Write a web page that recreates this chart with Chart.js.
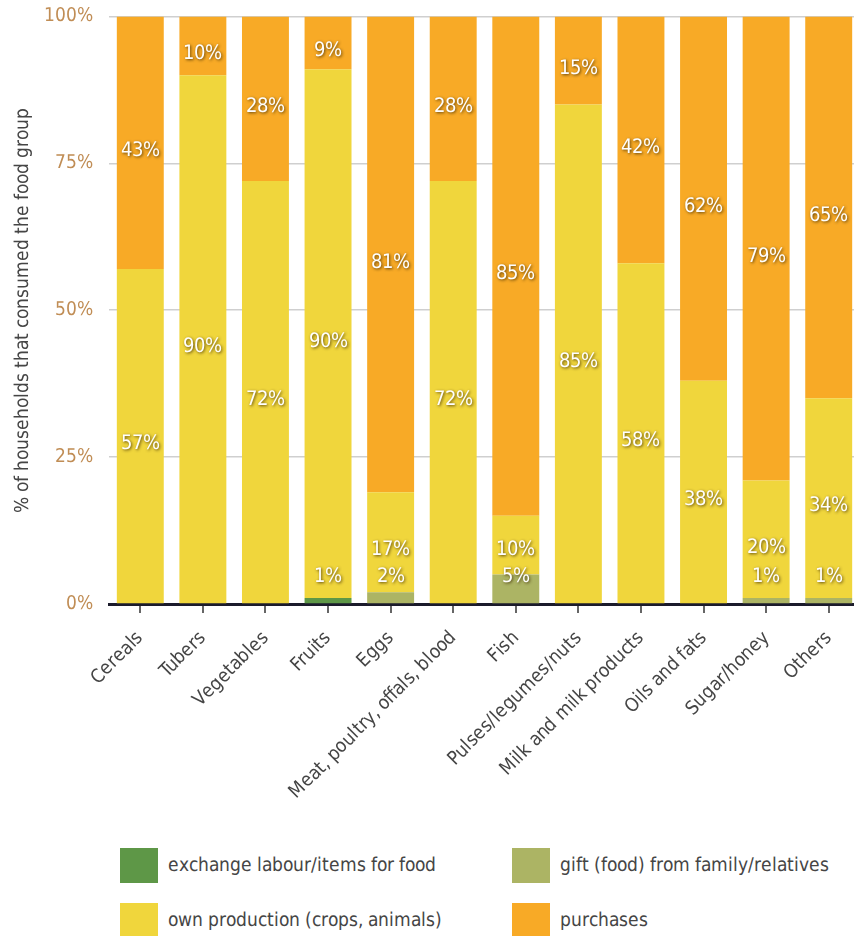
<!DOCTYPE html>
<html>
<head>
<meta charset="utf-8">
<script src="https://cdn.jsdelivr.net/npm/chart.js@4/dist/chart.umd.min.js"></script>
<style>
  @font-face { font-family: 'Estreita'; src: local('DejaVu Sans Condensed'), local('DejaVuSansCondensed'); }
  html, body { margin: 0; padding: 0; background: #fff; overflow: hidden; }
  #wrap { position: relative; width: 860px; height: 936px; overflow: hidden; }
  #box { position: absolute; left: 0; top: -11px; width: 860px; height: 841px; }
  .leg { position: absolute; font-family: 'Estreita', sans-serif; font-size: 19px; color: #454545; }
  .leg span { position: absolute; width: 38px; height: 35px; }
  .leg div { position: absolute; left: 48px; top: 5px; white-space: nowrap; }
</style>
</head>
<body>
<div id="wrap">
  <div id="box"><canvas id="grafico"></canvas></div>
  <div id="legenda"></div>
</div>
<script>
const categorias = ['Cereals', 'Tubers', 'Vegetables', 'Fruits', 'Eggs', 'Meat, poultry, offals, blood', 'Fish',
  'Pulses/legumes/nuts', 'Milk and milk products', 'Oils and fats', 'Sugar/honey', 'Others']
const troca = [0, 0, 0, 1, 0, 0, 0, 0, 0, 0, 0, 0]
const presente = [0, 0, 0, 0, 2, 0, 5, 0, 0, 0, 1, 1]
const producao = [57, 90, 72, 90, 17, 72, 10, 85, 58, 38, 20, 34]
const compras = [43, 10, 28, 9, 81, 28, 85, 15, 42, 62, 79, 65]
const marcasY = ['0%', '25%', '50%', '75%', '100%']

const series = [
  { label: 'exchange labour/items for food', data: troca, cor: '#5e9747' },
  { label: 'gift (food) from family/relatives', data: presente, cor: '#acb464' },
  { label: 'own production (crops, animals)', data: producao, cor: '#f0d63c' },
  { label: 'purchases', data: compras, cor: '#f8aa26' }
]

const fonte = "'Estreita', sans-serif"

// rotulos brancos com sombra dentro das barras
const rotulos = {
  id: 'rotulos',
  afterDatasetsDraw(chart) {
    const ctx = chart.ctx
    ctx.save()
    ctx.font = '20px ' + fonte
    ctx.fillStyle = '#fff'
    ctx.textAlign = 'center'
    ctx.textBaseline = 'middle'
    ctx.shadowColor = 'rgba(60,40,0,0.85)'
    ctx.shadowBlur = 3
    ctx.shadowOffsetX = 1
    ctx.shadowOffsetY = 1
    categorias.forEach((c, i) => {
      let anterior = chart.chartArea.bottom
      chart.data.datasets.forEach((ds, d) => {
        const v = ds.data[i]
        if (!v) return
        const barra = chart.getDatasetMeta(d).data[i]
        let y = (barra.y + barra.base) / 2 + 8
        y = Math.min(y, anterior - 27)
        ctx.fillText(v + '%', barra.x, y)
        anterior = y
      })
    })
    ctx.restore()
  }
}

function desenha() {
  new Chart(document.getElementById('grafico'), {
    type: 'bar',
    data: {
      labels: categorias,
      datasets: series.map(s => ({
        label: s.label,
        data: s.data,
        backgroundColor: s.cor,
        categoryPercentage: 1,
        barPercentage: 0.75
      }))
    },
    options: {
      responsive: true,
      maintainAspectRatio: false,
      animation: false,
      layout: { padding: { top: 0, left: 12, right: 0, bottom: 0 } },
      plugins: { legend: { display: false }, tooltip: { enabled: false } },
      scales: {
        x: {
          stacked: true,
          afterFit: (s) => { s.height = 226 },
          grid: { offset: false, drawOnChartArea: false, drawTicks: true, tickLength: 9, color: '#666', lineWidth: 2 },
          border: { display: true, color: '#1b1b2b', width: 3 },
          ticks: { minRotation: 45, maxRotation: 45, color: '#454545', font: { family: fonte, size: 19 }, padding: 14 }
        },
        y: {
          stacked: true,
          min: 0,
          max: 100,
          afterFit: (s) => { s.width = 97 },
          grid: { drawTicks: false, color: '#cfcfcf', lineWidth: 1.5 },
          border: { display: false },
          ticks: {
            stepSize: 25,
            padding: 16,
            color: '#c08d55',
            font: { family: fonte, size: 19 },
            callback: (v) => marcasY[v / 25]
          },
          title: {
            display: true,
            text: '% of households that consumed the food group',
            color: '#454545',
            font: { family: fonte, size: 19 },
            padding: { top: 0, bottom: 4 }
          }
        }
      }
    },
    plugins: [rotulos]
  })

  // legenda em duas colunas
  const legenda = document.getElementById('legenda')
  const posicoes = [[120, 848], [512, 848], [120, 903], [512, 903]]
  series.forEach((s, i) => {
    const item = document.createElement('div')
    item.className = 'leg'
    item.style.left = posicoes[i][0] + 'px'
    item.style.top = posicoes[i][1] + 'px'
    item.innerHTML = '<span style="background:' + s.cor + '"></span><div>' + s.label + '</div>'
    legenda.appendChild(item)
  })
}

document.fonts.load('19px Estreita').then(desenha, desenha)
</script>
</body>
</html>
